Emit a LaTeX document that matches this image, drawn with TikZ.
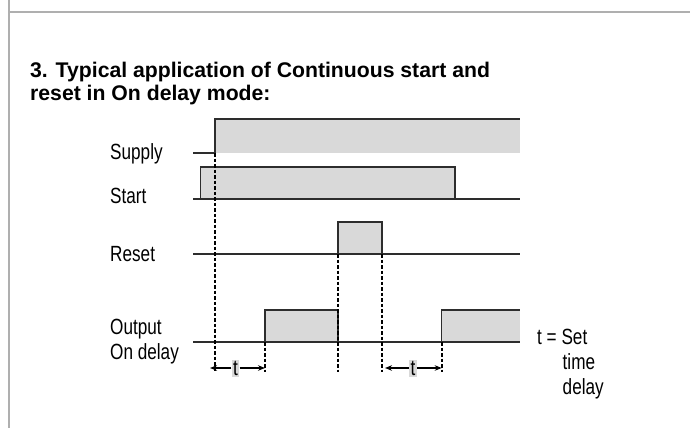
\documentclass[tikz,border=0pt]{standalone}
\usepackage{fontspec}
\setmainfont{Liberation Sans}
\newfontfamily\narrowfont[FakeStretch=0.78]{Liberation Sans}
\usepackage{xcolor}
\usetikzlibrary{arrows.meta}
\definecolor{framegray}{RGB}{175,175,175}
\definecolor{pulsegray}{RGB}{217,217,217}
\definecolor{wavecol}{RGB}{45,45,45}

\begin{document}
\begin{tikzpicture}[
      x=1pt, y=-1pt,
      frameline/.style={draw=framegray, line width=2pt},
      wave/.style={draw=wavecol, line width=1.3pt},
      pulse/.style={fill=pulsegray, draw=wavecol, line width=1.3pt},
      guide/.style={draw=black, line width=1.6pt, dash pattern=on 3.5pt off 2pt},
      tarrow/.style={-{Stealth[length=7pt,width=5.5pt]}, draw=black, line width=1.1pt},
      tbox/.style={fill=pulsegray, inner xsep=1.5pt, inner ysep=1pt,
                   minimum height=17pt, font=\narrowfont\fontsize{22}{24}\selectfont},
      lbl/.style={anchor=base west, inner sep=0pt, align=left,
                  font=\narrowfont\fontsize{22}{24.5}\selectfont}
    ]
      \useasboundingbox (0,0) rectangle (690,428);
      %% Page frame
      \coordinate (corner) at (9,12);
      \draw[frameline] (9,0) -- (9,428);
      \draw[frameline] (corner) -- (690,12);
      %% Title
      \node[anchor=base west, inner sep=0pt, align=left,
            font=\bfseries\fontsize{21.2}{23}\selectfont] (title) at (30,100)
            {3. Typical application of Continuous start and\\
             reset in On delay mode:};
      %% Time marks
      \coordinate (t0)  at (193,0);
      \coordinate (tst) at (200.7,0);
      \coordinate (tsu) at (215,0);
      \coordinate (to1) at (265,0);
      \coordinate (tr1) at (338,0);
      \coordinate (tr2) at (382,0);
      \coordinate (to2) at (441.7,0);
      \coordinate (tse) at (455,0);
      \coordinate (tend) at (520,0);
      %% Supply
      \node[lbl] (supply) at (110,159) {Supply};
      \fill[pulsegray] (tsu|-0,119) rectangle (tend|-0,153);
      \draw[wave] (t0|-0,153) -- (tsu|-0,153) -- (tsu|-0,119) -- (tend|-0,119);
      %% Start
      \node[lbl] (start) at (110,203) {Start};
      \draw[pulse] (tst|-0,199) -- (tst|-0,167) -- (tse|-0,167) -- (tse|-0,199);
      \draw[wave] (t0|-0,199) -- (tend|-0,199);
      %% Reset
      \node[lbl] (reset) at (110,261) {Reset};
      \draw[pulse] (tr1|-0,222) rectangle (tr2|-0,254);
      \draw[wave] (t0|-0,254) -- (tend|-0,254);
      %% Output
      \node[lbl] (output) at (110,359) {Output\\On delay};
      \draw[pulse] (to1|-0,310) rectangle (tr1|-0,342);
      \fill[pulsegray] (to2|-0,310) rectangle (tend|-0,342);
      \draw[wave] (to2|-0,342) -- (to2|-0,310) -- (tend|-0,310);
      \draw[wave] (t0|-0,342) -- (tend|-0,342);
      %% Guide lines
      \draw[guide] (tsu|-0,153) -- (tsu|-0,372);
      \draw[guide] (to1|-0,342) -- (to1|-0,372);
      \draw[guide] (tr1|-0,254) -- (tr1|-0,372);
      \draw[guide] (tr2|-0,254) -- (tr2|-0,372);
      \draw[guide] (to2|-0,342) -- (to2|-0,372);
      %% Delay arrows
      \node[tbox] (delay1) at (235.5,368.5) {t};
      \node[tbox] (delay2) at (413,368.5) {t};
      \coordinate (d1l) at (210,368);
      \coordinate (d1r) at (265,368);
      \coordinate (d2l) at (385,368);
      \coordinate (d2r) at (441.7,368);
      \draw[tarrow] (delay1.west|-d1l) -- (d1l);
      \draw[tarrow] (delay1.east|-d1r) -- (d1r);
      \draw[tarrow] (delay2.west|-d2l) -- (d2l);
      \draw[tarrow] (delay2.east|-d2r) -- (d2r);
      %% Legend
      \node[lbl] (legend) at (537,344) {t = Set};
      \node[lbl] (legendtxt) at (562.5,394) {time\\delay};
    \end{tikzpicture}
\end{document}
